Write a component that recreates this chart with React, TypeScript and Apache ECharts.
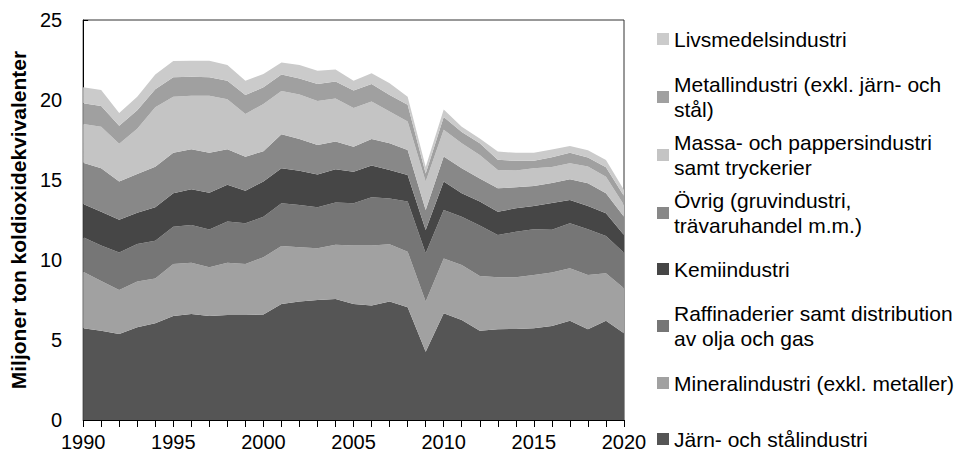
import React, { useEffect, useRef } from "react";
import * as echarts from "echarts";

const years = [
  "1990", "1991", "1992", "1993", "1994", "1995", "1996", "1997", "1998", "1999",
  "2000", "2001", "2002", "2003", "2004", "2005", "2006", "2007", "2008", "2009",
  "2010", "2011", "2012", "2013", "2014", "2015", "2016", "2017", "2018", "2019", "2020",
];

const jarnStal = [5.73, 5.58, 5.38, 5.79, 6.04, 6.5, 6.63, 6.5, 6.56, 6.56, 6.6, 7.25, 7.4, 7.5, 7.56, 7.25, 7.15, 7.4, 7.04, 4.27, 6.67, 6.25, 5.58, 5.67, 5.69, 5.73, 5.88, 6.21, 5.67, 6.21, 5.42];
const mineral = [3.54, 3.11, 2.75, 2.86, 2.81, 3.25, 3.2, 3.04, 3.27, 3.19, 3.57, 3.63, 3.39, 3.23, 3.4, 3.65, 3.75, 3.58, 3.48, 3.13, 3.43, 3.44, 3.42, 3.25, 3.23, 3.33, 3.34, 3.27, 3.39, 2.96, 2.81];
const raffinaderier = [2.15, 2.21, 2.34, 2.35, 2.35, 2.33, 2.36, 2.36, 2.57, 2.54, 2.54, 2.67, 2.65, 2.56, 2.64, 2.64, 3.02, 2.87, 3.13, 3.02, 3.03, 3.02, 3.15, 2.64, 2.85, 2.86, 2.67, 2.81, 2.86, 2.33, 2.23];
const kemi = [2.08, 2.12, 2.04, 1.96, 2.09, 2.09, 2.23, 2.31, 2.31, 2.04, 2.19, 2.19, 2.14, 2.06, 2.07, 1.98, 1.98, 1.78, 1.66, 1.46, 1.78, 1.46, 1.5, 1.46, 1.46, 1.46, 1.67, 1.46, 1.46, 1.42, 1.1];
const ovrig = [2.58, 2.71, 2.4, 2.42, 2.54, 2.53, 2.5, 2.49, 2.21, 2.13, 1.9, 2.12, 1.98, 1.84, 1.73, 1.56, 1.66, 1.67, 1.57, 1.25, 1.56, 1.56, 1.45, 1.46, 1.31, 1.25, 1.25, 1.29, 1.42, 1.25, 1.15];
const massaPapper = [2.42, 2.6, 2.35, 2.83, 3.72, 3.5, 3.35, 3.57, 3.12, 2.67, 2.95, 2.7, 2.79, 2.74, 2.7, 2.42, 2.34, 1.98, 1.78, 1.78, 1.67, 1.56, 1.46, 1.15, 1.06, 1.1, 1.0, 1.0, 1.04, 1.04, 0.73];
const metall = [1.29, 1.3, 1.13, 1.15, 1.12, 1.22, 1.19, 1.15, 1.16, 1.18, 1.04, 1.03, 1.0, 1.07, 1.05, 1.1, 1.1, 1.03, 1.04, 0.5, 0.8, 0.71, 0.73, 0.63, 0.6, 0.47, 0.61, 0.66, 0.57, 0.58, 0.56];
const livsmedel = [1.0, 1.0, 0.8, 0.85, 0.93, 1.02, 1.0, 1.04, 0.99, 0.9, 0.84, 0.75, 0.84, 0.83, 0.75, 0.6, 0.67, 0.74, 0.51, 0.4, 0.46, 0.33, 0.31, 0.52, 0.5, 0.5, 0.48, 0.43, 0.45, 0.46, 0.38];

const seriesNames = [
  "Järn- och stålindustri",
  "Mineralindustri (exkl. metaller)",
  "Raffinaderier samt distribution av olja och gas",
  "Kemiindustri",
  "Övrig (gruvindustri, trävaruhandel m.m.)",
  "Massa- och pappersindustri samt tryckerier",
  "Metallindustri (exkl. järn- och stål)",
  "Livsmedelsindustri",
];

const legendLabels = [
  "Järn- och stålindustri",
  "Mineralindustri (exkl. metaller)",
  "Raffinaderier samt distribution\nav olja och gas",
  "Kemiindustri",
  "Övrig (gruvindustri,\nträvaruhandel m.m.)",
  "Massa- och pappersindustri\nsamt tryckerier",
  "Metallindustri (exkl. järn- och\nstål)",
  "Livsmedelsindustri",
];

const seriesData = [jarnStal, mineral, raffinaderier, kemi, ovrig, massaPapper, metall, livsmedel];
const colors = ["#555555", "#a1a1a1", "#767676", "#464646", "#888888", "#c4c4c4", "#a0a0a0", "#cbcbcb"];
// icon centre y for each legend entry (same order as series)
const legendCenters = [439, 383, 326, 269, 213, 155, 97, 39];

const FONT = "'Liberation Sans', Arial, sans-serif";
const LINE_H = 25;

export default function App() {
  const ref = useRef<HTMLDivElement>(null);

  useEffect(() => {
    if (!ref.current) return;
    const chart = echarts.init(ref.current, undefined, { renderer: "svg" });

    const legends = seriesNames.map((name, i) => {
      const label = legendLabels[i];
      const lines = label.split("\n").length;
      const textH = lines === 1 ? LINE_H : LINE_H * lines + LINE_H * (lines - 1);
      return {
        show: true,
        orient: "vertical",
        left: 657,
        top: legendCenters[i] - textH / 2,
        padding: 0,
        itemWidth: 12,
        itemHeight: 12,
        itemGap: 0,
        icon: "rect",
        selectedMode: false,
        data: [name],
        formatter: () => label,
        textStyle: {
          fontFamily: FONT,
          fontSize: 21,
          color: "#000",
          lineHeight: LINE_H,
          padding: lines === 1 ? 0 : [LINE_H * (lines - 1), 0, 0, 0],
        },
      };
    });

    chart.setOption({
      animation: false,
      backgroundColor: "#fff",
      color: colors,
      grid: {
        left: 76,
        right: 332,
        top: 20,
        bottom: 34,
        show: true,
        borderColor: "#333",
        borderWidth: 1,
        containLabel: false,
      },
      legend: legends,
      xAxis: {
        type: "category",
        data: years,
        boundaryGap: false,
        axisLine: { show: true, lineStyle: { color: "#000", width: 1 } },
        axisTick: { show: true, interval: 0, length: 7, lineStyle: { color: "#000" } },
        axisLabel: {
          interval: 4,
          margin: 12,
          fontFamily: FONT,
          fontSize: 20,
          color: "#000",
        },
        splitLine: { show: false },
      },
      yAxis: {
        type: "value",
        min: 0,
        max: 25,
        interval: 5,
        name: "Miljoner ton koldioxidekvivalenter",
        nameLocation: "middle",
        nameRotate: 90,
        nameGap: 45,
        nameTextStyle: {
          fontFamily: FONT,
          fontSize: 21,
          fontWeight: "bold",
          color: "#000",
        },
        axisLine: { show: true, lineStyle: { color: "#000", width: 1 } },
        axisTick: { show: true, inside: true, length: 5, lineStyle: { color: "#000" } },
        axisLabel: {
          margin: 21,
          fontFamily: FONT,
          fontSize: 20,
          color: "#000",
        },
        splitLine: { show: false },
      },
      series: seriesNames.map((name, i) => ({
        name,
        type: "line",
        stack: "total",
        data: seriesData[i],
        symbol: "none",
        showSymbol: false,
        lineStyle: { width: 0 },
        areaStyle: { color: colors[i], opacity: 1 },
        itemStyle: { color: colors[i] },
        emphasis: { disabled: true },
      })),
    });

    return () => chart.dispose();
  }, []);

  return (
    <div
      ref={ref}
      style={{ position: "absolute", left: 0, top: 0, width: 956, height: 454 }}
    />
  );
}
